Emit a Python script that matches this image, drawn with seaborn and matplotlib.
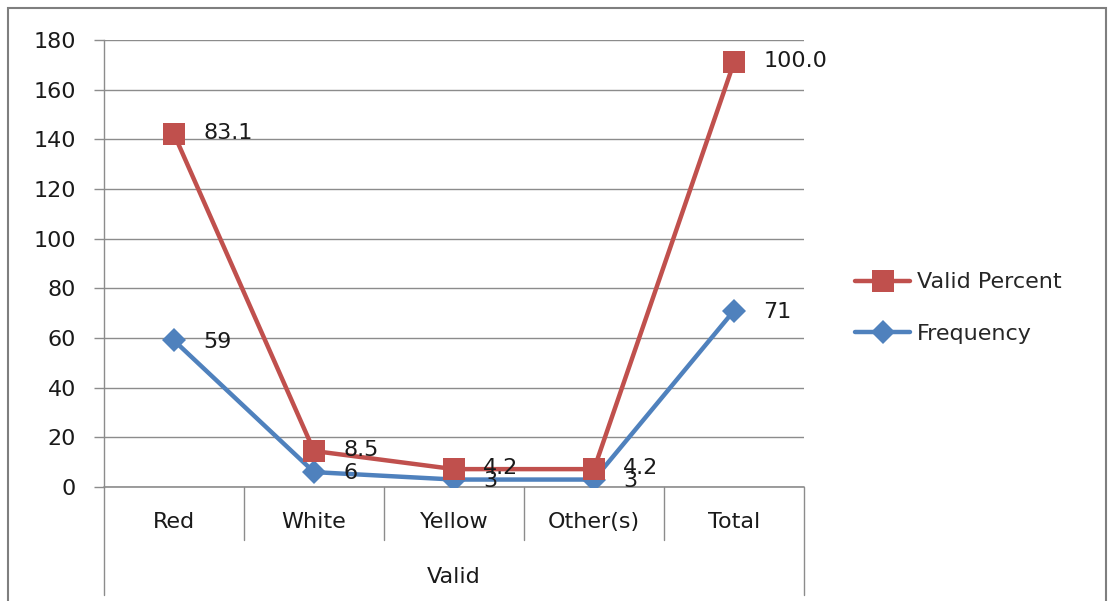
import numpy as np
import pandas as pd
import matplotlib
matplotlib.use("Agg")
import matplotlib.pyplot as plt
import matplotlib.transforms as mtransforms
from matplotlib.patches import Rectangle
import seaborn as sns

# --- data (stacked line chart: Valid Percent drawn on top of Frequency) ---
categories = ["Red", "White", "Yellow", "Other(s)", "Total"]
frequency = [59, 6, 3, 3, 71]
valid_percent = [83.1, 8.5, 4.2, 4.2, 100.0]
group_label = "Valid"
y_ticks = list(range(0, 181, 20))

red = "#C0504D"
blue = "#4F81BD"
grid_gray = "#8C8C8C"

sns.set_style("white")
plt.rcParams["font.family"] = ["DejaVu Sans"]
fs = 16

W, H = 1114, 601
fig = plt.figure(figsize=(W / 100, H / 100), dpi=100)
ax = fig.add_axes([104 / W, (H - 487) / H, 700 / W, 447 / H])

x = np.arange(len(categories))
stacked = np.array(frequency) + np.array(valid_percent)

df = pd.DataFrame({"x": x, "freq": frequency, "stacked": stacked})

sns.lineplot(data=df, x="x", y="freq", ax=ax, color=blue, lw=3.2,
             marker="D", markersize=12, markeredgewidth=0, label="Frequency",
             zorder=3)
sns.lineplot(data=df, x="x", y="stacked", ax=ax, color=red, lw=3.2,
             marker="s", markersize=16, markeredgewidth=0, label="Valid Percent",
             zorder=4)

# data labels
for xi, yv, v in zip(x, frequency, frequency):
    ax.annotate(f"{v}", (xi, yv), xytext=(21, -1), textcoords="offset points",
                ha="left", va="center", fontsize=fs, color="#1a1a1a", zorder=5)
for xi, yv, v in zip(x, stacked, valid_percent):
    ax.annotate(f"{v:.1f}", (xi, yv), xytext=(21, 1), textcoords="offset points",
                ha="left", va="center", fontsize=fs, color="#1a1a1a", zorder=5)

ax.set_xlim(-0.5, len(categories) - 0.5)
ax.set_ylim(0, 180)
ax.set_yticks(y_ticks)
ax.set_yticklabels([str(t) for t in y_ticks], fontsize=fs, color="#1a1a1a")
ax.set_xticks([])
ax.set_xlabel("")
ax.set_ylabel("")
ax.grid(axis="y", color=grid_gray, lw=1)
ax.axhline(0, color=grid_gray, lw=1.2, clip_on=False, zorder=1)
ax.tick_params(axis="y", length=7, color=grid_gray, width=1, pad=13, left=True)
for s in ["top", "right", "bottom"]:
    ax.spines[s].set_visible(False)
ax.spines["left"].set_color(grid_gray)
ax.spines["left"].set_linewidth(1)

# category axis with group label
trans = mtransforms.blended_transform_factory(ax.transData, ax.transAxes)
sep_short = -53 / 447
sep_long = -108 / 447
for i in range(len(categories) + 1):
    xb = i - 0.5
    y_end = sep_long if i in (0, len(categories)) else sep_short
    ax.plot([xb, xb], [0, y_end], transform=trans, color=grid_gray, lw=1,
            clip_on=False)
for xi, c in zip(x, categories):
    ax.text(xi, -35 / 447, c, transform=trans, ha="center", va="center",
            fontsize=fs, color="#1a1a1a")
ax.text((len(categories) - 1) / 2, -90 / 447, group_label, transform=trans,
        ha="center", va="center", fontsize=fs, color="#1a1a1a")

# legend
ax.get_legend().remove()
handles, labels = ax.get_legend_handles_labels()
order = [labels.index("Valid Percent"), labels.index("Frequency")]
fig.legend([handles[i] for i in order], [labels[i] for i in order],
           loc="center left", bbox_to_anchor=(846 / W, 1 - 308 / H),
           frameon=False, fontsize=fs, handlelength=2.5, handletextpad=0.3,
           labelspacing=1.4, borderaxespad=0)

# outer chart border (bottom edge cut off as in the reference)
fig.patches.append(Rectangle((8 / W, -0.05), 1098 / W, 1.05 - 8 / H,
                             transform=fig.transFigure, fill=False,
                             edgecolor="#7F7F7F", lw=1.5))

fig.savefig("out.png", dpi=100)
